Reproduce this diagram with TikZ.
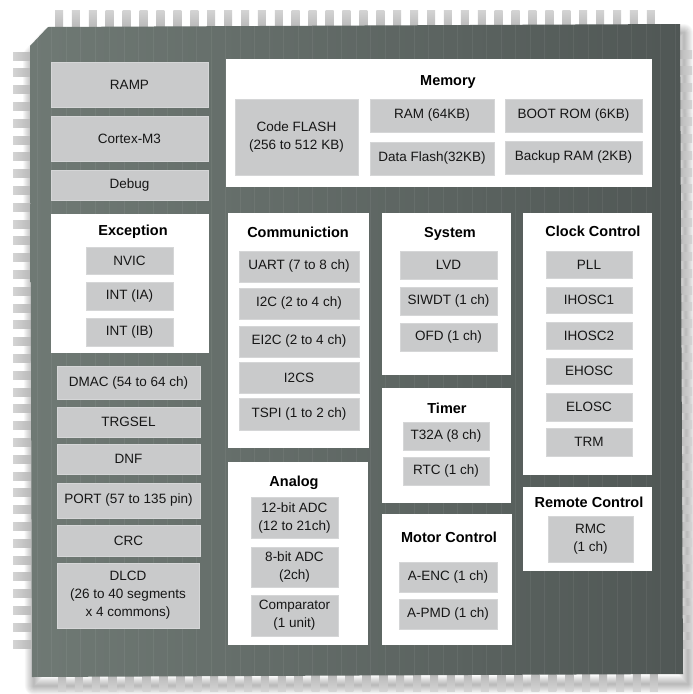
\documentclass[tikz,border=0pt]{standalone}
\usepackage{fontspec}
\setmainfont{Liberation Sans}
\definecolor{chipL}{HTML}{6F7974}
\definecolor{chipR}{HTML}{505755}
\definecolor{boxg}{HTML}{C9CACB}
\definecolor{boxedge}{HTML}{D5D6D7}
\definecolor{pinc}{HTML}{B8B8B8}
\definecolor{pinlight}{HTML}{D4D4D4}
\definecolor{txt}{HTML}{161616}
\tikzset{
  gbox/.style={fill=boxg, draw=boxedge, line width=0.6pt, inner sep=0pt, outer sep=0pt,
    align=center, text=txt, font=\fontsize{13.5}{18}\selectfont},
  wbox/.style={fill=white, inner sep=0pt, outer sep=0pt},
  ttl/.style={font=\bfseries\fontsize{14.5}{16}\selectfont, text=black, inner sep=0pt, anchor=base},
  chipline/.style={white, opacity=0.06, line width=0.6pt}
}
\newcommand\mkgray[6]{\node[gbox, minimum width={(#4-#2)*1pt}, minimum height={(#5-#3)*1pt}] (#1) at ({(#2+#4)/2},{(#3+#5)/2}) {#6};}
\newcommand\mkwhite[5]{\node[wbox, minimum width={(#4-#2)*1pt}, minimum height={(#5-#3)*1pt}] (#1) at ({(#2+#4)/2},{(#3+#5)/2}) {};}
\begin{document}
\begin{tikzpicture}[x=1pt,y=-1pt]
\useasboundingbox (0,0) rectangle (693,694);
\fill[white] (0,0) rectangle (693,694);
% soft shadow (mostly below and right)
\foreach \w in {2,4,...,18}
  \draw[black, opacity=0.03, line width=\w pt, line join=round]
    (50,36) -- (684,33) -- (688,684) -- (34,686) -- (32,56) -- cycle;
% pins
\foreach \i in {0,...,35} {
  \path[top color=pinlight, bottom color=pinc] ({55+\i*16.91},10) rectangle ++(8,18);
  \path[left color=pinlight, right color=pinc] (13,{52+\i*16.8}) rectangle ++(18,8);
  \path[left color=pinc, right color=pinlight] (679,{50+\i*16.86}) rectangle ++(13,8);
  \path[top color=pinc, bottom color=pinlight] ({58+\i*16.91},674) rectangle ++(8,17);
}
% chip body
\path[left color=chipL, right color=chipR] (48,27) -- (680,24) -- (683,674) -- (32,677) -- (30,46) -- cycle;
\begin{scope}
  \clip (48,27) -- (680,24) -- (683,674) -- (32,677) -- (30,46) -- cycle;
  \foreach \x in {37,51.5,...,680} \draw[chipline] (\x,20) -- (\x,680);
\end{scope}
% left column
\mkgray{ramp}{51}{62}{208}{107}{RAMP}
\mkgray{cortex}{51}{116}{208}{161}{Cortex-M3}
\mkgray{debug}{51}{170}{208}{200}{Debug}
% Memory
\mkwhite{memory}{226}{59}{652}{187}
\node[ttl] (tmem) at (448,85) {Memory};
\mkgray{cflash}{235}{99}{358}{175}{\fontsize{13.5}{16.5}\selectfont Code FLASH\\(256 to 512 KB)}
\mkgray{ram}{370}{99}{494}{132}{RAM (64KB)}
\mkgray{dflash}{370}{142}{494}{175}{Data Flash(32KB)}
\mkgray{bootrom}{505}{99}{642}{132}{BOOT ROM (6KB)}
\mkgray{bkram}{505}{141}{642}{174}{Backup RAM (2KB)}
% Exception
\mkwhite{exception}{51}{214}{209}{353}
\node[ttl] (texc) at (133,235) {Exception};
\mkgray{nvic}{86}{247}{173}{274}{NVIC}
\mkgray{intia}{86}{282}{173}{310}{INT (IA)}
\mkgray{intib}{86}{318}{173}{346}{INT (IB)}
% lower left
\mkgray{dmac}{57}{366}{200}{399}{DMAC (54 to 64 ch)}
\mkgray{trgsel}{57}{407}{200}{437}{TRGSEL}
\mkgray{dnf}{57}{444}{200}{474}{DNF}
\mkgray{port}{57}{483}{200}{518}{PORT (57 to 135 pin)}
\mkgray{crc}{57}{525}{200}{556}{CRC}
\mkgray{dlcd}{57}{563}{199}{628}{DLCD\\(26 to 40 segments\\x 4 commons)}
% Communication
\mkwhite{comm}{228}{213}{369}{448}
\node[ttl] (tcomm) at (298,237) {Communiction};
\mkgray{uart}{239}{251}{359}{282}{UART (7 to 8 ch)}
\mkgray{itc}{239}{288}{359}{319}{I2C (2 to 4 ch)}
\mkgray{eitc}{239}{326}{359}{357}{EI2C (2 to 4 ch)}
\mkgray{itcs}{239}{362}{359}{393}{I2CS}
\mkgray{tspi}{239}{398}{359}{430}{TSPI (1 to 2 ch)}
% System
\mkwhite{system}{382}{213}{511}{375}
\node[ttl] (tsys) at (450,237) {System};
\mkgray{lvd}{400}{251}{497}{279}{LVD}
\mkgray{siwdt}{400}{287}{497}{315}{SIWDT (1 ch)}
\mkgray{ofd}{400}{323}{497}{351}{OFD (1 ch)}
% Timer
\mkwhite{timer}{382}{388}{511}{503}
\node[ttl] (ttim) at (447,413) {Timer};
\mkgray{tta}{403}{422}{489}{450}{T32A (8 ch)}
\mkgray{rtc}{403}{457}{489}{485}{RTC (1 ch)}
% Analog
\mkwhite{analog}{228}{462}{368}{645}
\node[ttl] (tana) at (294,486) {Analog};
\mkgray{adca}{251}{497}{338}{538}{12-bit ADC\\(12 to 21ch)}
\mkgray{adcb}{251}{547}{338}{587}{8-bit ADC\\(2ch)}
\mkgray{comp}{251}{595}{338}{636}{Comparator\\(1 unit)}
% Motor Control
\mkwhite{motor}{382}{514}{512}{645}
\node[ttl] (tmot) at (449,542) {Motor Control};
\mkgray{aenc}{399}{562}{497}{592}{A-ENC (1 ch)}
\mkgray{apmd}{399}{599}{497}{629}{A-PMD (1 ch)}
% Clock Control
\mkwhite{clock}{523}{213}{652}{475}
\node[ttl] (tclk) at (593,236) {Clock Control};
\mkgray{pll}{546}{251}{632}{278}{PLL}
\mkgray{ihosca}{546}{287}{632}{313}{IHOSC1}
\mkgray{ihoscb}{546}{322}{632}{349}{IHOSC2}
\mkgray{ehosc}{546}{358}{632}{384}{EHOSC}
\mkgray{elosc}{546}{393}{632}{421}{ELOSC}
\mkgray{trm}{546}{428}{632}{456}{TRM}
% Remote Control
\mkwhite{remote}{523}{487}{652}{571}
\node[ttl] (trem) at (589,507) {Remote Control};
\mkgray{rmc}{548}{516}{633}{562}{RMC\\(1 ch)}
\end{tikzpicture}
\end{document}
